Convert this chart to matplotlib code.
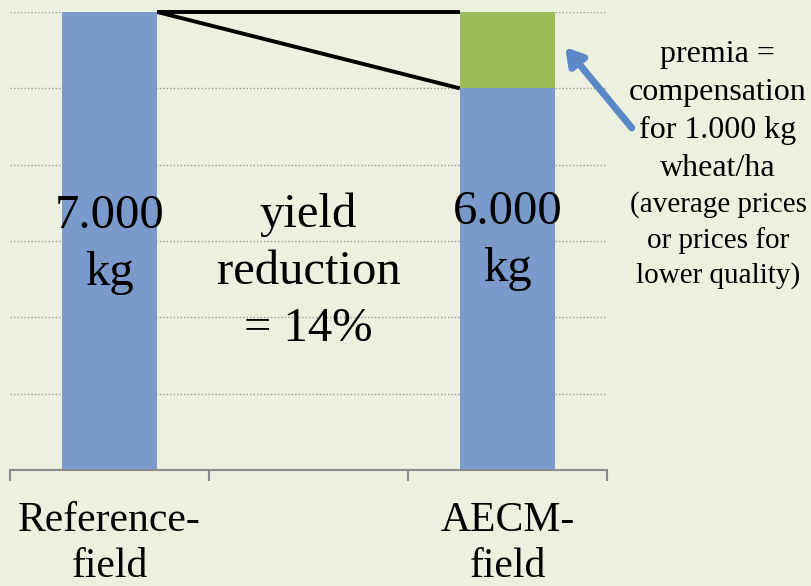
import matplotlib.pyplot as plt

# data
categories = ['Reference-\nfield', '', 'AECM-\nfield']
base_yield = [7000, 0, 6000]      # kg wheat/ha
premia = [0, 0, 1000]              # compensated kg
bar_labels = ['7.000\nkg', '', '6.000\nkg']
middle_label = 'yield\nreduction\n= 14%'
note_top = ['premia =', 'compensation', 'for 1.000 kg', 'wheat/ha']
note_bottom = ['(average prices', 'or prices for', 'lower quality)']

BG = '#ECF0DF'
BLUE = '#7A9ACB'
GREEN = '#9BBB59'
plt.rcParams['font.family'] = ['Liberation Serif', 'DejaVu Serif']

W, H = 811, 586
fig = plt.figure(figsize=(W / 100, H / 100), dpi=100, facecolor=BG)
ax = fig.add_axes([10 / W, 1 - 470 / H, 597 / W, 458 / H], facecolor=BG)

x = list(range(len(categories)))
bw = 0.48
ax.bar(x, base_yield, width=bw, color=BLUE, zorder=2)
ax.bar(x, premia, width=bw, bottom=base_yield, color=GREEN, zorder=2)

ax.set_xlim(-0.5, 2.5)
ax.set_ylim(1000, 7000)
ax.set_yticks(range(1000, 7001, 1000))
ax.yaxis.grid(True, linestyle=(0, (1, 1.5)), color='#9a9a9a', lw=1.0, zorder=1)
ax.tick_params(axis='y', left=False, labelleft=False)
for s in ('left', 'top', 'right'):
    ax.spines[s].set_visible(False)
ax.spines['bottom'].set_color('#8c8c8c')
ax.spines['bottom'].set_linewidth(1.5)

# category boundaries as ticks, labels at centres
ax.set_xticks([-0.5, 0.5, 1.5, 2.5], ['', '', '', ''])
ax.tick_params(axis='x', which='major', direction='out', length=8, width=1.5, color='#8c8c8c')
ax.set_xticks(x, categories, minor=True)
ax.tick_params(axis='x', which='minor', length=0, pad=23, labelsize=30)
for lab in ax.get_xticklabels(minor=True):
    lab.set_linespacing(1.25)

# yield comparison lines
ref_top, aecm_top = base_yield[0], base_yield[2]
x0, x1 = x[0] + bw / 2, x[2] - bw / 2
ax.plot([x0, x1], [ref_top, ref_top], color='black', lw=2.8, zorder=3, clip_on=False, solid_capstyle='butt')
ax.plot([x0, x1], [ref_top, aecm_top], color='black', lw=2.8, zorder=3, clip_on=False, solid_capstyle='butt')

# text
txt = dict(ha='center', va='center', fontsize=35, linespacing=1.38, zorder=4)
ax.text(x[0], 3950, bar_labels[0], **txt)
ax.text(x[2], 4010, bar_labels[2], **txt)
ax.text(x[1], 3600, middle_label, **txt)

# side note, one line at a time (pixel baselines)
for i, line in enumerate(note_top):
    fig.text(718 / W, 1 - (62 + 38 * i) / H, line, ha='center', va='baseline', fontsize=23)
for i, line in enumerate(note_bottom):
    fig.text(718 / W, 1 - (212 + 35.5 * i) / H, line, ha='center', va='baseline', fontsize=21)

ax.annotate('', xy=(2.29, 6540), xytext=(2.625, 5480), annotation_clip=False,
            arrowprops=dict(arrowstyle='-|>,head_length=1.0,head_width=0.6', color='#5A88C6',
                            lw=5, shrinkA=0, shrinkB=0))

fig.savefig('out.png', dpi=100, facecolor=BG)
